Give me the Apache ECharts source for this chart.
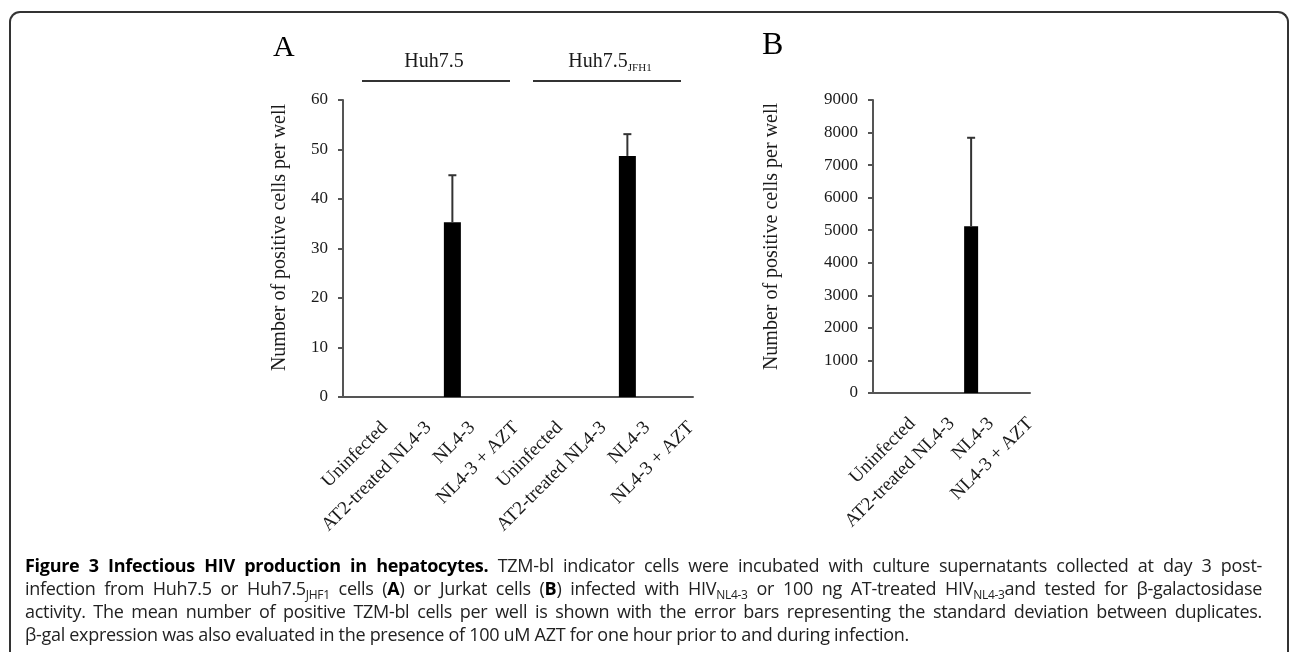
<!DOCTYPE html>
<html>
<head>
<meta charset="utf-8">
<script src="https://cdn.jsdelivr.net/npm/echarts@6/dist/echarts.min.js"></script>
<style>
  html, body { margin: 0; padding: 0; background: #fff; }
  #wrap { position: relative; width: 1290px; height: 652px; overflow: hidden; }
  .frame {
    position: absolute; left: 9px; top: 11px; width: 1280px; height: 700px;
    border: 2px solid #333; border-bottom: none; border-radius: 11px 11px 0 0;
    box-sizing: border-box;
  }
  #chart { position: absolute; left: 0; top: 0; width: 1290px; height: 652px; }
  .caption {
    position: absolute; left: 25px; top: 554px; width: 1237px;
    font-family: "Open Sans", sans-serif; font-size: 18px; line-height: 23px;
    color: #222; letter-spacing: -0.3px;
  }
  .caption div { white-space: nowrap; }
  .caption .j { text-align: justify; text-align-last: justify; white-space: normal; }
  .caption b { color: #000; }
  .caption sub { font-size: 12px; vertical-align: -4px; line-height: 0; }
</style>
</head>
<body>
<div id="wrap">
  <div class="frame"></div>
  <div id="chart"></div>
  <div class="caption">
    <div class="j"><b>Figure 3 Infectious HIV production in hepatocytes.</b> TZM-bl indicator cells were incubated with culture supernatants collected at day 3 post-</div>
    <div class="j">infection from Huh7.5 or Huh7.5<sub>JHF1</sub> cells (<b>A</b>) or Jurkat cells (<b>B</b>) infected with HIV<sub>NL4-3</sub> or 100 ng AT-treated HIV<sub>NL4-3</sub>and tested for β-galactosidase</div>
    <div class="j">activity. The mean number of positive TZM-bl cells per well is shown with the error bars representing the standard deviation between duplicates.</div>
    <div>β-gal expression was also evaluated in the presence of 100 uM AZT for one hour prior to and during infection.</div>
  </div>
</div>
<script>
// panel A: Huh7.5 and Huh7.5 JFH1 supernatants
var categoriesA = ['Uninfected', 'AT2-treated NL4-3', 'NL4-3', 'NL4-3 + AZT',
                   'Uninfected', 'AT2-treated NL4-3', 'NL4-3', 'NL4-3 + AZT'];
var meansA = [0, 0, 35.3, 0, 0, 0, 48.7, 0];
var sdA = [0, 0, 9.5, 0, 0, 0, 4.4, 0];
var ticksA = { min: 0, max: 60, interval: 10 };

// panel B: Jurkat supernatants
var categoriesB = ['Uninfected', 'AT2-treated NL4-3', 'NL4-3', 'NL4-3 + AZT'];
var meansB = [0, 0, 5120, 0];
var sdB = [0, 0, 2720, 0];
var ticksB = { min: 0, max: 9000, interval: 1000 };

var serif = '"Liberation Serif", "Times New Roman", serif';
var axisColor = '#555';
var textColor = '#1a1a1a';

function xAxisFor(cats, grid) {
  return {
    type: 'category', gridIndex: grid, data: cats,
    axisLine: { lineStyle: { color: axisColor, width: 2 } },
    axisTick: { show: false },
    axisLabel: {
      interval: 0, rotate: 45, margin: 8,
      // blank first line pushes the text down-right like the excel layout
      formatter: function (v) { return '\n' + v; },
      lineHeight: 56,
      fontFamily: serif, fontSize: 19, color: textColor
    }
  };
}

function yAxisFor(t, grid, gap, shift) {
  return {
    type: 'value', gridIndex: grid, min: t.min, max: t.max, interval: t.interval,
    name: 'Number of positive cells per well',
    nameLocation: 'middle', nameGap: gap, nameRotate: 90,
    nameTextStyle: { fontFamily: serif, fontSize: 20, color: textColor, padding: [0, 0, 0, shift] },
    axisLine: { show: true, lineStyle: { color: axisColor, width: 2 } },
    axisTick: { show: true, length: 5, lineStyle: { color: axisColor, width: 2 } },
    axisLabel: { margin: 15, fontFamily: serif, fontSize: 17, color: textColor,
      formatter: function (v) { return String(v); } },
    splitLine: { show: false }
  };
}

// upper error whisker drawn through the axis scale
function errorBars(means, sds, grid, capHalf) {
  return {
    type: 'custom', xAxisIndex: grid, yAxisIndex: grid, z: 5,
    data: means.map(function (m, i) { return [i, m, m + sds[i]]; }),
    renderItem: function (params, api) {
      if (api.value(2) <= api.value(1)) return null;
      var lo = api.coord([api.value(0), api.value(1)]);
      var hi = api.coord([api.value(0), api.value(2)]);
      var st = { stroke: '#333', lineWidth: 2 };
      return {
        type: 'group',
        children: [
          { type: 'line', shape: { x1: lo[0], y1: lo[1], x2: hi[0], y2: hi[1] }, style: st },
          { type: 'line', shape: { x1: hi[0] - capHalf, y1: hi[1], x2: hi[0] + capHalf, y2: hi[1] }, style: st }
        ]
      };
    }
  };
}

var chart = echarts.init(document.getElementById('chart'));

var option = {
  animation: false,
  grid: [
    { left: 343, top: 100, width: 350, height: 297, outerBoundsMode: 'none' },
    { left: 873, top: 100, width: 157, height: 293, outerBoundsMode: 'none' }
  ],
  xAxis: [xAxisFor(categoriesA, 0), xAxisFor(categoriesB, 1)],
  yAxis: [yAxisFor(ticksA, 0, 53, 22), yAxisFor(ticksB, 1, 91, 20)],
  series: [
    { type: 'bar', xAxisIndex: 0, yAxisIndex: 0, data: meansA, barWidth: 17,
      itemStyle: { color: '#000' } },
    errorBars(meansA, sdA, 0, 4),
    { type: 'bar', xAxisIndex: 1, yAxisIndex: 1, data: meansB, barWidth: 14,
      itemStyle: { color: '#000' } },
    errorBars(meansB, sdB, 1, 4)
  ],
  graphic: [
    { type: 'text', left: 273, top: 33, style: { text: 'A', font: '30px ' + serif, fill: '#000' } },
    { type: 'text', left: 762, top: 30, style: { text: 'B', font: '32px ' + serif, fill: '#000' } },
    { type: 'text', x: 434, y: 62, style: { text: 'Huh7.5', font: '20px ' + serif, fill: textColor,
      align: 'center', verticalAlign: 'middle' } },
    { type: 'text', x: 610, y: 62, style: {
      text: 'Huh7.5{s|JFH1}', font: '20px ' + serif, fill: textColor, align: 'center', verticalAlign: 'middle',
      rich: { s: { fontFamily: serif, fontSize: 11, fill: textColor, padding: [12, 0, 0, 0] } } } },
    { type: 'line', shape: { x1: 362, y1: 81, x2: 510, y2: 81 }, style: { stroke: '#333', lineWidth: 2 } },
    { type: 'line', shape: { x1: 533, y1: 81, x2: 681, y2: 81 }, style: { stroke: '#333', lineWidth: 2 } }
  ]
};

chart.setOption(option);
</script>
</body>
</html>
